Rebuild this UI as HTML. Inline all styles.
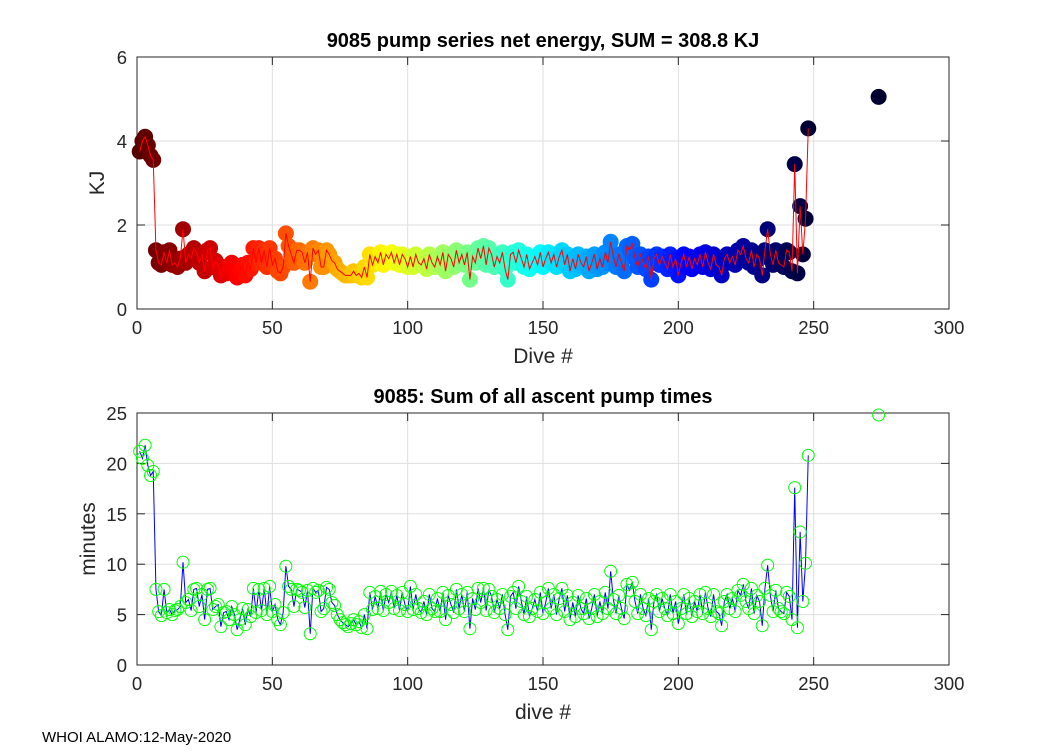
<!DOCTYPE html>
<html><head><meta charset="utf-8"><style>
body{margin:0;background:#fff;width:1050px;height:750px;overflow:hidden}
svg text{font-family:"Liberation Sans",Arial,sans-serif}
</style></head><body>
<svg id="s" width="1050" height="750" xmlns="http://www.w3.org/2000/svg"></svg>
<script>
const dives = [];
for (let i = 1; i <= 248; i++) dives.push(i);
dives.push(274);
const energy = [3.75,4.0,4.1,3.9,3.65,3.55,1.4,1.1,1.05,1.35,1.1,1.4,1.05,1.1,1.0,1.2,1.9,1.1,1.3,1.2,
1.45,1.35,1.1,1.3,0.9,1.4,1.45,1.0,1.15,1.05,0.8,1.0,0.85,0.95,1.1,1.0,0.75,0.9,1.05,0.8,
1.1,0.95,1.45,1.1,1.45,1.1,1.4,1.0,1.45,1.05,1.2,0.9,0.85,1.0,1.8,1.5,1.3,1.1,1.4,1.4,
1.35,1.1,1.35,0.65,1.45,1.3,1.4,1.0,1.0,1.4,1.3,1.15,1.1,0.95,0.9,0.85,0.8,0.8,0.8,0.9,
0.8,0.85,0.75,1.0,0.75,1.3,1.05,1.25,1.1,1.35,1.05,1.3,1.2,1.35,1.1,1.3,1.05,1.3,1.2,1.0,
1.25,1.0,1.3,1.1,1.05,1.2,0.95,1.3,1.1,1.0,1.25,1.05,1.35,0.9,1.3,1.2,1.0,1.4,1.1,1.3,
1.05,1.35,0.7,1.25,1.1,1.45,1.2,1.5,1.05,1.45,1.3,1.0,1.25,1.1,1.35,0.95,0.7,1.3,1.35,1.1,
1.4,1.2,1.0,1.3,0.95,1.1,1.25,1.05,1.35,1.0,1.2,1.35,1.1,1.3,1.0,1.25,1.4,1.05,1.3,0.9,
1.2,0.95,1.3,1.1,1.0,1.25,0.9,1.1,1.3,0.95,1.2,1.0,1.35,1.1,1.6,1.25,1.0,1.3,1.1,0.9,
1.5,1.4,1.55,1.2,1.0,1.3,1.1,0.95,1.25,0.7,1.2,1.3,1.05,1.25,1.1,0.95,1.3,1.0,1.2,0.8,
1.1,1.3,1.0,1.25,0.95,1.2,1.05,1.3,1.0,1.35,1.1,0.95,1.3,1.05,1.0,0.8,1.2,1.3,1.1,1.25,
1.05,1.4,1.3,1.5,1.2,1.1,1.4,1.0,1.3,1.2,0.8,1.4,1.9,1.3,1.05,1.4,1.1,1.05,1.0,1.4,
1.35,0.9,3.45,0.85,2.45,1.3,2.15,4.3,5.05];
const minutes = [21.2,20.5,21.8,19.8,18.8,19.2,7.5,5.3,4.9,7.5,5.2,5.5,5.0,5.4,5.5,5.8,10.2,6.2,6.5,5.4,
7.5,7.6,5.8,7.0,4.5,7.5,7.6,5.5,5.8,6.0,3.8,5.2,5.3,4.5,5.8,5.0,3.5,4.5,5.6,4.0,
5.5,4.8,7.6,5.2,7.5,5.4,7.6,5.0,7.8,5.3,6.0,4.5,4.0,5.2,9.8,7.8,7.5,5.8,7.5,7.4,
7.2,5.7,7.4,3.1,7.6,7.2,7.4,5.3,5.6,7.7,7.5,6.2,5.9,5.0,4.5,4.2,4.0,3.8,4.1,4.5,
4.0,4.3,3.7,5.0,3.6,7.2,5.5,6.8,5.6,7.3,5.4,7.0,6.2,7.3,5.6,6.9,5.4,7.2,6.0,5.3,
7.8,5.5,7.0,5.6,5.2,6.3,5.0,7.0,5.6,5.3,6.6,5.3,7.2,4.5,6.9,6.0,5.2,7.5,5.6,7.0,
5.3,7.2,3.6,6.6,5.5,7.6,6.2,7.6,5.4,7.5,6.8,5.2,6.5,5.6,7.0,5.0,3.5,6.8,7.2,5.6,
7.8,6.3,5.0,6.8,4.8,5.6,6.5,5.3,7.2,5.1,6.2,7.6,5.6,7.0,5.0,6.6,7.6,5.3,6.9,4.5,
6.2,4.8,6.9,5.6,5.1,6.6,4.6,5.6,7.0,4.8,6.3,5.1,7.2,5.6,9.3,6.5,5.1,6.9,5.6,4.6,
8.0,7.4,8.2,6.3,5.1,7.0,5.6,4.9,6.6,3.5,6.3,7.0,5.3,6.6,5.6,4.9,7.0,5.1,6.3,4.1,
5.6,7.0,5.1,6.6,4.8,6.3,5.3,7.0,5.1,7.2,5.6,4.8,7.0,5.3,5.1,3.9,6.3,7.0,5.6,6.6,
5.3,7.4,6.9,8.0,6.3,5.6,7.6,5.1,6.9,6.3,3.9,7.6,9.9,6.9,5.3,7.4,5.6,5.3,5.1,7.2,
6.8,4.5,17.6,3.7,13.2,6.3,10.1,20.8,24.8];
const xTicks = [0,50,100,150,200,250,300];
const yTicksTop = [0,2,4,6];
const yTicksBot = [0,5,10,15,20,25];

const NS = "http://www.w3.org/2000/svg";
const svg = document.getElementById('s');
function mk(tag, attrs, parent, txt){const e=document.createElementNS(NS,tag);for(const k in attrs)e.setAttribute(k,attrs[k]);if(txt!==undefined)e.textContent=txt;(parent||svg).appendChild(e);return e;}
const L=137,R=949;
const xs=v=>L+(R-L)*v/300;
function jet(t){
  const c=x=>Math.max(0,Math.min(1,x));
  const r=c(1.5-Math.abs(4*t-3)),g=c(1.5-Math.abs(4*t-2)),b=c(1.5-Math.abs(4*t-1));
  return `rgb(${Math.round(r*255)},${Math.round(g*255)},${Math.round(b*255)})`;
}
function axes(name,T,B,ymax,yt,title,ylab,xlab){
  const g=mk('g',{},svg);
  
  
  const ys=v=>B-(B-T)*v/ymax;
  mk('rect',{x:L,y:T,width:R-L,height:B-T,fill:'#fff'},g);
  xTicks.forEach(t=>{
    const gl=mk('line',{x1:xs(t),x2:xs(t),y1:T,y2:B,stroke:'#dfdfdf','stroke-width':1},g);
    
    mk('line',{x1:xs(t),x2:xs(t),y1:B,y2:B-8,stroke:'#262626'},g);
    mk('line',{x1:xs(t),x2:xs(t),y1:T,y2:T+8,stroke:'#262626'},g);
    const tl=mk('text',{x:xs(t),y:B+25,'font-size':18.5,'text-anchor':'middle',fill:'#262626'},g,t);
    
  });
  yt.forEach(t=>{
    mk('line',{x1:L,x2:R,y1:ys(t),y2:ys(t),stroke:'#dfdfdf'},g);
    mk('line',{x1:L,x2:L+8,y1:ys(t),y2:ys(t),stroke:'#262626'},g);
    mk('line',{x1:R,x2:R-8,y1:ys(t),y2:ys(t),stroke:'#262626'},g);
    const tl=mk('text',{x:L-10,y:ys(t)+7,'font-size':18.5,'text-anchor':'end',fill:'#262626'},g,t);
    
  });
  mk('rect',{x:L,y:T,width:R-L,height:B-T,fill:'none',stroke:'#262626','stroke-width':1},g);
  const ti=mk('text',{x:(L+R)/2,y:T-10,'font-size':20,'font-weight':'bold','text-anchor':'middle',fill:'#000'},svg,title);
  
  const yl=mk('text',{x:0,y:0,'font-size':21,'text-anchor':'middle',fill:'#262626',transform:`translate(${ylab[1]},${(T+B)/2}) rotate(-90)`},svg,ylab[0]);
  
  const xl=mk('text',{x:(L+R)/2,y:B+54,'font-size':21,'text-anchor':'middle',fill:'#262626'},svg,xlab);
  
  return ys;
}
const ysT=axes('energy-axes',57,309,6,yTicksTop,'9085 pump series net energy, SUM = 308.8 KJ',['KJ',104],'Dive #');
const N=dives.length;
const gT=mk('g',{},svg);


for(let i=0;i<N;i++){
  const t=1.04-1.12*i/(N-1);
  const c=mk('circle',{cx:xs(dives[i]),cy:ysT(energy[i]),r:8,fill:jet(t)},gT);
  
  
}
const lt=mk('polyline',{points:dives.slice(0,N-1).map((d,i)=>xs(d)+','+ysT(energy[i])).join(' '),fill:'none',stroke:'#ff0000','stroke-width':1},gT);


const ysB=axes('minutes-axes',413,665,25,yTicksBot,'9085: Sum of all ascent pump times',['minutes',95],'dive #');
const gB=mk('g',{},svg);


const lb=mk('polyline',{points:dives.slice(0,N-1).map((d,i)=>xs(d)+','+ysB(minutes[i])).join(' '),fill:'none',stroke:'#0000ff','stroke-width':1},gB);


for(let i=0;i<N;i++){
  const c=mk('circle',{cx:xs(dives[i]),cy:ysB(minutes[i]),r:6,fill:'none',stroke:'#00ff00','stroke-width':1},gB);
  
  
}
const ft=mk('text',{x:42,y:742,'font-size':15,fill:'#000'},svg,'WHOI ALAMO:12-May-2020');


</script>
</body></html>
